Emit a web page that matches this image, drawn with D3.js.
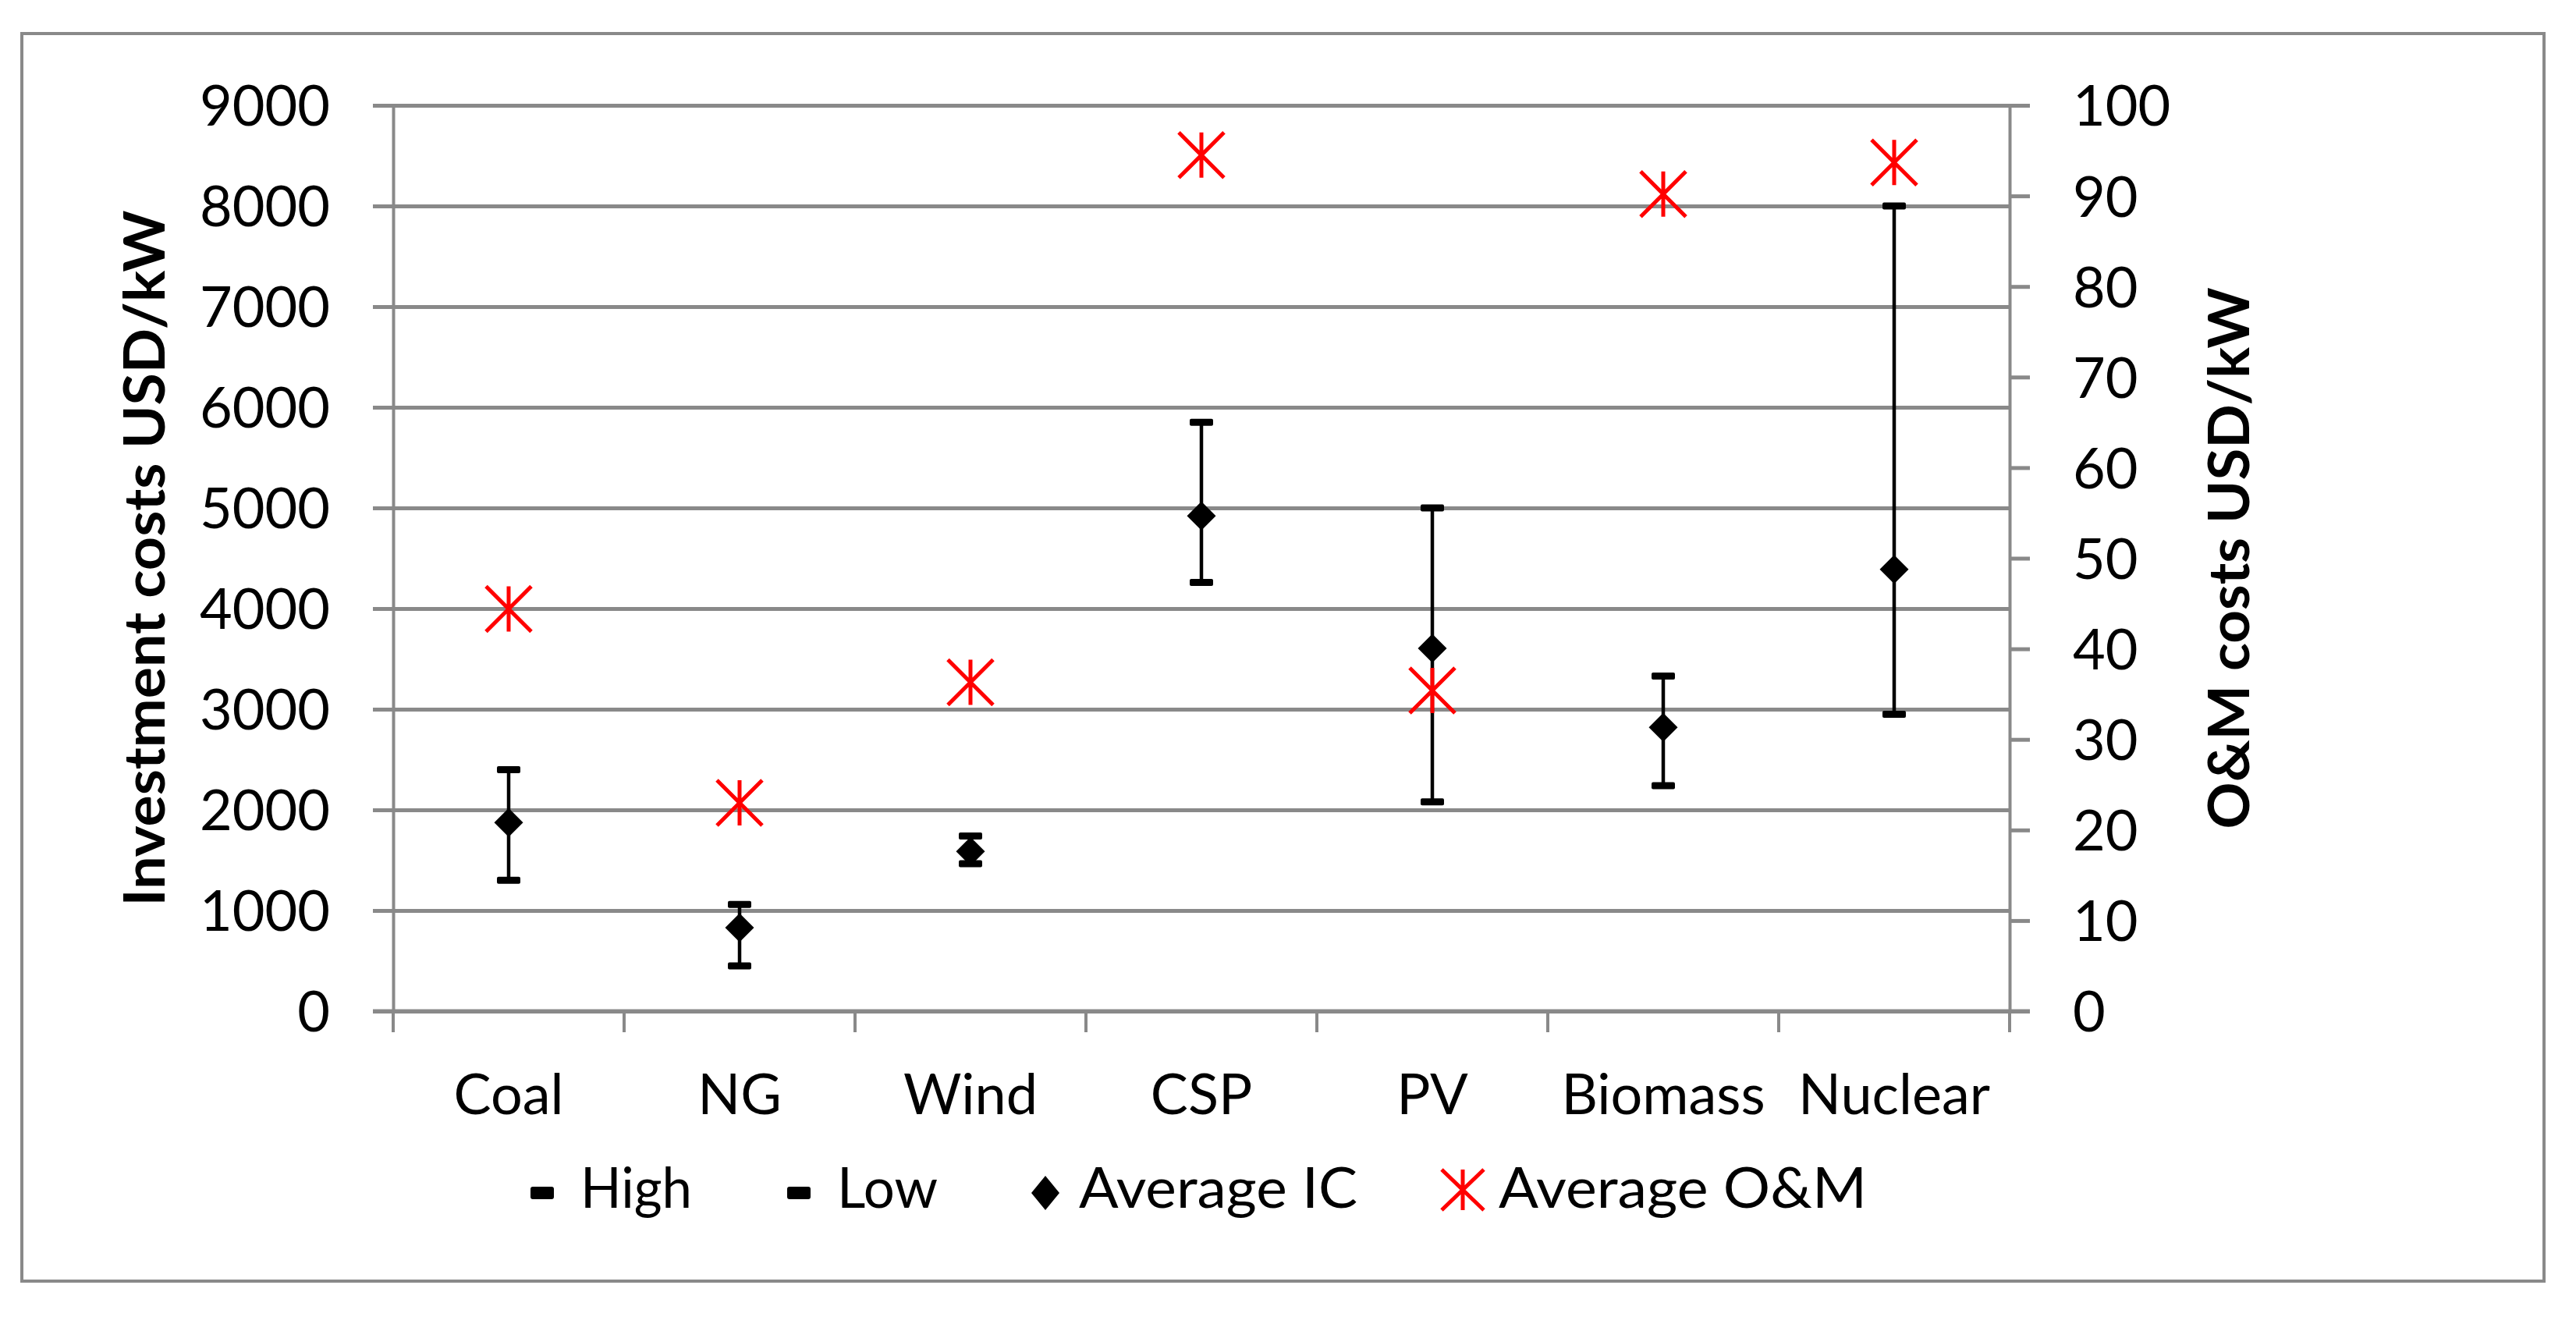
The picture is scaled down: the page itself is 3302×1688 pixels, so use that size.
<!DOCTYPE html>
<html>
<head>
<meta charset="utf-8">
<script src="https://cdn.jsdelivr.net/npm/d3@7/dist/d3.min.js"></script>
<style>
  html, body { margin: 0; padding: 0; background: #ffffff; }
  svg { display: block; }
</style>
</head>
<body>
<script>
// ---------- data ----------
const categories = ["Coal", "NG", "Wind", "CSP", "PV", "Biomass", "Nuclear"];
const highIC   = [2400, 1060, 1740, 5850, 5000, 3330, 8000];
const lowIC    = [1300, 450, 1465, 4260, 2080, 2240, 2950];
const averageIC = [1875, 830, 1587, 4920, 3605, 2820, 4390];
const averageOM = [44.4, 23.0, 36.3, 94.5, 35.4, 90.2, 93.7];
const leftTicks  = [0, 1000, 2000, 3000, 4000, 5000, 6000, 7000, 8000, 9000];
const rightTicks = [0, 10, 20, 30, 40, 50, 60, 70, 80, 90, 100];
const legendLabels = ["High", "Low", "Average IC", "Average O&M"];
const leftTitle = "Investment costs USD/kW";
const rightTitle = "O&M costs USD/kW";

// ---------- layout ----------
const W = 3302, H = 1688;
const plotL = 504, plotR = 2576, plotT = 135, plotB = 1296;
const GRAY = "#898989";
const FONT = "Lato, Carlito, Calibri, 'Open Sans', sans-serif";
const fmt = d3.format("d");

const svg = d3.select("body").append("svg")
  .attr("width", W).attr("height", H)
  .attr("viewBox", `0 0 ${W} ${H}`);

svg.append("rect").attr("width", W).attr("height", H).attr("fill", "#fff");

// outer chart border
svg.append("rect")
  .attr("x", 28).attr("y", 43).attr("width", 3233).attr("height", 1599)
  .attr("fill", "none").attr("stroke", GRAY).attr("stroke-width", 4);

const x = d3.scaleBand().domain(categories).range([plotL, plotR]);
const yL = d3.scaleLinear().domain([0, 9000]).range([plotB, plotT]);
const yR = d3.scaleLinear().domain([0, 100]).range([plotB, plotT]);

// gridlines (extending left as tick marks)
const grid = svg.append("g")
  .attr("transform", `translate(${plotL - 26},0)`)
  .call(d3.axisRight(yL).tickValues(leftTicks).tickSize(plotR - plotL + 26).tickFormat(""));
grid.select(".domain").remove();
grid.selectAll(".tick line").attr("stroke", GRAY).attr("stroke-width", 5);

// left axis
const axL = svg.append("g")
  .attr("transform", `translate(${plotL},0)`)
  .call(d3.axisLeft(yL).tickValues(leftTicks).tickFormat(fmt).tickSizeInner(0).tickSizeOuter(0).tickPadding(81));
axL.select(".domain").attr("stroke", GRAY).attr("stroke-width", 4);
axL.selectAll(".tick text")
  .attr("font-family", FONT).attr("font-size", 72).attr("fill", "#000").attr("dy", "0.36em");

// right axis
const axR = svg.append("g")
  .attr("transform", `translate(${plotR},0)`)
  .call(d3.axisRight(yR).tickValues(rightTicks).tickFormat(fmt).tickSizeInner(26).tickSizeOuter(0).tickPadding(55));
axR.select(".domain").attr("stroke", GRAY).attr("stroke-width", 4);
axR.selectAll(".tick line").attr("stroke", GRAY).attr("stroke-width", 5);
axR.selectAll(".tick text")
  .attr("font-family", FONT).attr("font-size", 72).attr("fill", "#000").attr("dy", "0.36em");

// bottom axis: labels at band centers, ticks at band edges
const axB = svg.append("g")
  .attr("transform", `translate(0,${plotB})`)
  .call(d3.axisBottom(x).tickSizeInner(0).tickSizeOuter(0).tickPadding(81));
axB.select(".domain").remove();
axB.selectAll(".tick line").remove();
axB.selectAll(".tick text")
  .attr("font-family", FONT).attr("font-size", 72).attr("fill", "#000");

const edges = categories.map(c => x(c)).concat([x(categories[categories.length - 1]) + x.bandwidth()]);
svg.append("g").selectAll("line").data(edges).join("line")
  .attr("x1", d => d).attr("x2", d => d)
  .attr("y1", plotB).attr("y2", plotB + 27)
  .attr("stroke", GRAY).attr("stroke-width", 4);

// x axis base line on top
svg.append("line")
  .attr("x1", plotL - 26).attr("x2", plotR + 26)
  .attr("y1", yL(0)).attr("y2", yL(0))
  .attr("stroke", GRAY).attr("stroke-width", 5);

// axis titles
svg.append("text")
  .attr("transform", `translate(211,${(plotT + plotB) / 2}) rotate(-90)`)
  .attr("text-anchor", "middle")
  .attr("font-family", FONT).attr("font-weight", "bold").attr("font-size", 72)
  .attr("textLength", 892).attr("lengthAdjust", "spacingAndGlyphs")
  .text(leftTitle);

svg.append("text")
  .attr("transform", `translate(2883,${(plotT + plotB) / 2}) rotate(-90)`)
  .attr("text-anchor", "middle")
  .attr("font-family", FONT).attr("font-weight", "bold").attr("font-size", 72)
  .attr("textLength", 694).attr("lengthAdjust", "spacingAndGlyphs")
  .text(rightTitle);

// ---------- marks ----------
const rows = categories.map((c, i) => ({ c, hi: highIC[i], lo: lowIC[i], avg: averageIC[i], om: averageOM[i] }));
const cx = d => x(d.c) + x.bandwidth() / 2;

const marks = svg.append("g");
// error bar stems
marks.selectAll(".stem").data(rows).join("line")
  .attr("x1", cx).attr("x2", cx)
  .attr("y1", d => yL(d.hi)).attr("y2", d => yL(d.lo))
  .attr("stroke", "#000").attr("stroke-width", 4.5);

// High / Low caps
function capRect(sel, key) {
  sel.attr("x", d => cx(d) - 15).attr("y", d => yL(d[key]) - 4.5)
    .attr("width", 30).attr("height", 9).attr("rx", 2)
    .attr("fill", "#000");
}
marks.selectAll(".hi").data(rows).join("rect").call(capRect, "hi");
marks.selectAll(".lo").data(rows).join("rect").call(capRect, "lo");

// Average IC diamonds
const diamond = (w, h) => `M0,${-h / 2}L${w / 2},0L0,${h / 2}L${-w / 2},0Z`;
marks.selectAll(".avg").data(rows).join("path")
  .attr("transform", d => `translate(${cx(d)},${yL(d.avg)})`)
  .attr("d", diamond(37, 37))
  .attr("fill", "#000");

// Average O&M stars
const star = s => `M0,${-s}L0,${s}M${-s},${-s}L${s},${s}M${s},${-s}L${-s},${s}`;
marks.selectAll(".om").data(rows).join("path")
  .attr("transform", d => `translate(${cx(d)},${yR(d.om)})`)
  .attr("d", star(29))
  .attr("fill", "none").attr("stroke", "#FF0000").attr("stroke-width", 5);

// ---------- legend ----------
const leg = svg.append("g");
const legBase = 1548, legMid = 1529;
const legendItems = [
  { label: legendLabels[0], mx: 695, tx: 744, tw: 143, type: "dash" },
  { label: legendLabels[1], mx: 1024, tx: 1073, tw: 129, type: "dash" },
  { label: legendLabels[2], mx: 1340, tx: 1383, tw: 357, type: "diamond" },
  { label: legendLabels[3], mx: 1875, tx: 1921, tw: 472, type: "star" }
];
legendItems.forEach(it => {
  if (it.type === "dash") {
    leg.append("rect").attr("x", it.mx - 15).attr("y", legMid - 8)
      .attr("width", 30).attr("height", 16).attr("rx", 3).attr("fill", "#000");
  } else if (it.type === "diamond") {
    leg.append("path").attr("transform", `translate(${it.mx},${legMid})`)
      .attr("d", diamond(36, 44)).attr("fill", "#000");
  } else {
    leg.append("path").attr("transform", `translate(${it.mx},${legMid - 4})`)
      .attr("d", `M0,-26L0,26M-27,-26L27,26M27,-26L-27,26`)
      .attr("fill", "none").attr("stroke", "#FF0000").attr("stroke-width", 5);
  }
  leg.append("text").attr("x", it.tx).attr("y", legBase)
    .attr("font-family", FONT).attr("font-size", 72).attr("fill", "#000")
    .attr("textLength", it.tw).attr("lengthAdjust", "spacingAndGlyphs")
    .text(it.label);
});
</script>
</body>
</html>
